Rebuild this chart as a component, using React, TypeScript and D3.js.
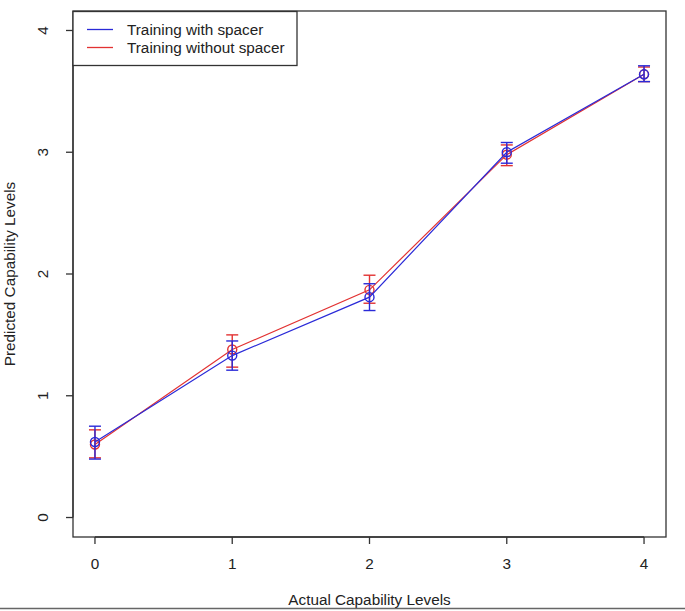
import React from "react";
import * as d3 from "d3";

const levels = [0, 1, 2, 3, 4];
const withSpacerMean = [0.62, 1.33, 1.81, 3.0, 3.64];
const withSpacerLow = [0.48, 1.21, 1.7, 2.91, 3.58];
const withSpacerHigh = [0.75, 1.45, 1.92, 3.08, 3.71];
const withoutSpacerMean = [0.6, 1.38, 1.87, 2.98, 3.64];
const withoutSpacerLow = [0.49, 1.235, 1.76, 2.89, 3.58];
const withoutSpacerHigh = [0.72, 1.5, 1.99, 3.06, 3.7];
const xTicks = [0, 1, 2, 3, 4];
const yTicks = [0, 1, 2, 3, 4];
const legendLabels = ["Training with spacer", "Training without spacer"];

const W = 685;
const H = 611;
const left = 73;
const right = 666;
const top = 11;
const bottom = 537;
const FONT = "'Liberation Sans', Arial, sans-serif";
const FS = 15.3;
const BLUE = "#2a2ad8";
const RED = "#e23232";

export default function App() {
  const x = d3.scaleLinear().domain([-0.16, 4.16]).range([left, right]);
  const y = d3.scaleLinear().domain([-0.16, 4.16]).range([bottom, top]);
  const line = d3
    .line<[number, number]>()
    .x((d) => x(d[0]))
    .y((d) => y(d[1]));

  const series = [
    { color: RED, mean: withoutSpacerMean, low: withoutSpacerLow, high: withoutSpacerHigh },
    { color: BLUE, mean: withSpacerMean, low: withSpacerLow, high: withSpacerHigh },
  ];
  const cap = 6;

  return (
    <svg
      width={W}
      height={H}
      style={{ position: "absolute", left: 0, top: 0, background: "#fff" }}
      fontFamily={FONT}
    >
      <rect x={0} y={0} width={W} height={H} fill="#fff" />
      {series.map((s, si) => (
        <g key={si}>
          <path
            d={line(levels.map((l, i) => [l, s.mean[i]]) as [number, number][]) || ""}
            fill="none"
            stroke={s.color}
            strokeWidth={1.2}
          />
          {levels.map((l, i) => (
            <g key={i} stroke={s.color} strokeWidth={1.4} fill="none">
              <line x1={x(l)} x2={x(l)} y1={y(s.low[i])} y2={y(s.high[i])} />
              <line x1={x(l) - cap} x2={x(l) + cap} y1={y(s.low[i])} y2={y(s.low[i])} />
              <line x1={x(l) - cap} x2={x(l) + cap} y1={y(s.high[i])} y2={y(s.high[i])} />
              <circle cx={x(l)} cy={y(s.mean[i])} r={4.5} />
            </g>
          ))}
        </g>
      ))}
      {/* plot box */}
      <rect
        x={left}
        y={top}
        width={right - left}
        height={bottom - top}
        fill="none"
        stroke="#333"
        strokeWidth={1.3}
      />
      {/* x axis */}
      <g>
        <line x1={x(0)} x2={x(4)} y1={bottom} y2={bottom} stroke="#333" strokeWidth={1.3} />
        {xTicks.map((t) => (
          <g key={t}>
            <line x1={x(t)} x2={x(t)} y1={bottom} y2={bottom + 7} stroke="#333" strokeWidth={1.3} />
            <text x={x(t)} y={569} fontSize={FS} textAnchor="middle" fill="#222">
              {t}
            </text>
          </g>
        ))}
      </g>
      {/* y axis */}
      <g>
        <line x1={left} x2={left} y1={y(0)} y2={y(4)} stroke="#333" strokeWidth={1.3} />
        {yTicks.map((t) => (
          <g key={t}>
            <line x1={left - 7} x2={left} y1={y(t)} y2={y(t)} stroke="#333" strokeWidth={1.3} />
            <text
              transform={`translate(${48},${y(t)}) rotate(-90)`}
              fontSize={FS}
              textAnchor="middle"
              fill="#222"
            >
              {t}
            </text>
          </g>
        ))}
      </g>
      <text x={(left + right) / 2} y={605} fontSize={FS} textAnchor="middle" fill="#222">
        Actual Capability Levels
      </text>
      <text
        transform={`translate(${15},${(top + bottom) / 2}) rotate(-90)`}
        fontSize={FS}
        textAnchor="middle"
        fill="#222"
      >
        Predicted Capability Levels
      </text>
      {/* legend */}
      <rect x={left} y={11.5} width={224} height={54} fill="#fff" stroke="#333" strokeWidth={1.3} />
      {legendLabels.map((lab, i) => (
        <g key={lab}>
          <line
            x1={87}
            x2={113}
            y1={29.5 + i * 18}
            y2={29.5 + i * 18}
            stroke={i === 0 ? BLUE : RED}
            strokeWidth={1.3}
          />
          <text x={127} y={35 + i * 18} fontSize={FS} fill="#222">
            {lab}
          </text>
        </g>
      ))}
      <line x1={0} x2={W} y1={608.5} y2={608.5} stroke="#666" strokeWidth={1.3} />
    </svg>
  );
}
